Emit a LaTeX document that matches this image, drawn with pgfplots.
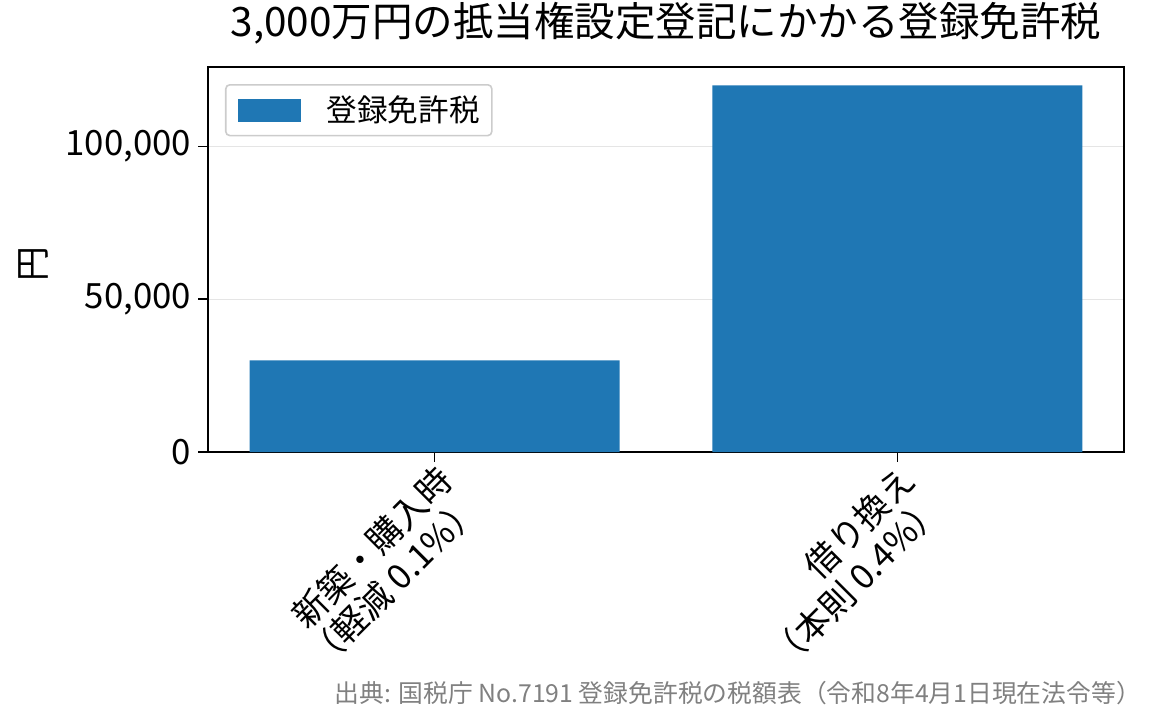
\documentclass[border=0pt]{standalone}
\usepackage{fontspec}
\setmainfont{Noto Sans CJK JP}
\usepackage{pgfplots}
\pgfplotsset{compat=1.18}
\definecolor{barblue}{HTML}{1F77B4}
\newcommand{\legfs}{\fontsize{15.3bp}{18bp}\selectfont}
\newcommand{\tickfs}{\fontsize{17.4bp}{19.5bp}\selectfont}
\begin{document}
\begin{tikzpicture}
\useasboundingbox (-104bp,-136.5bp) rectangle (478.5bp,226bp);
\begin{axis}[
    at={(0,0)}, anchor=south west,
    width=458bp, height=192.5bp, scale only axis,
    xmin=-0.49, xmax=1.49,
    ymin=0, ymax=126000,
    xtick={0,1},
    xticklabels={{新築・購入時\\（軽減 0.1\%）},{借り換え\\（本則 0.4\%）}},
    x tick label style={rotate=45, anchor=north east, align=right, inner sep=0pt,
                        font=\tickfs},
    ytick={0,50000,100000},
    yticklabels={0,{50,000},{100,000}},
    y tick label style={font=\tickfs},
    scaled y ticks=false,
    tick align=outside,
    xtick pos=bottom, ytick pos=left,
    major tick length=4.9bp,
    tick style={black, line width=0.8bp},
    axis line style={line width=1bp},
    ymajorgrids,
    grid style={black!10, line width=0.7bp},
    title={3,000万円の抵当権設定登記にかかる登録免許税},
    title style={at={(axis description cs:0.5,1)}, anchor=center, yshift=16bp,
                 font=\fontsize{20.25bp}{24bp}\selectfont},
    legend style={at={(axis description cs:0,1)}, anchor=north west,
                  xshift=8.5bp, yshift=-8.5bp,
                  draw=black!20, line width=0.8bp, rounded corners=2bp,
                  font=\legfs, inner xsep=6bp, inner ysep=5.5bp,
                  nodes={inner sep=0pt},
                  /tikz/every odd column/.style={column sep=13bp}},
    legend image code/.code={\fill[barblue, sharp corners] (0bp,-5.75bp) rectangle (31.5bp,5.75bp);},
]
\addplot[ybar, bar width=0.8, fill=barblue, draw=none] coordinates {(0,30000) (1,120000)};
\addlegendentry{登録免許税}
\end{axis}
\node[rotate=90, font=\tickfs] at (-87.5bp,94bp) {円};
\node[anchor=base east, text=black!50, font=\fontsize{12.4bp}{15bp}\selectfont]
    at (470bp,-125bp) {出典: 国税庁 No.7191 登録免許税の税額表（令和8年4月1日現在法令等）};
\end{tikzpicture}
\end{document}
